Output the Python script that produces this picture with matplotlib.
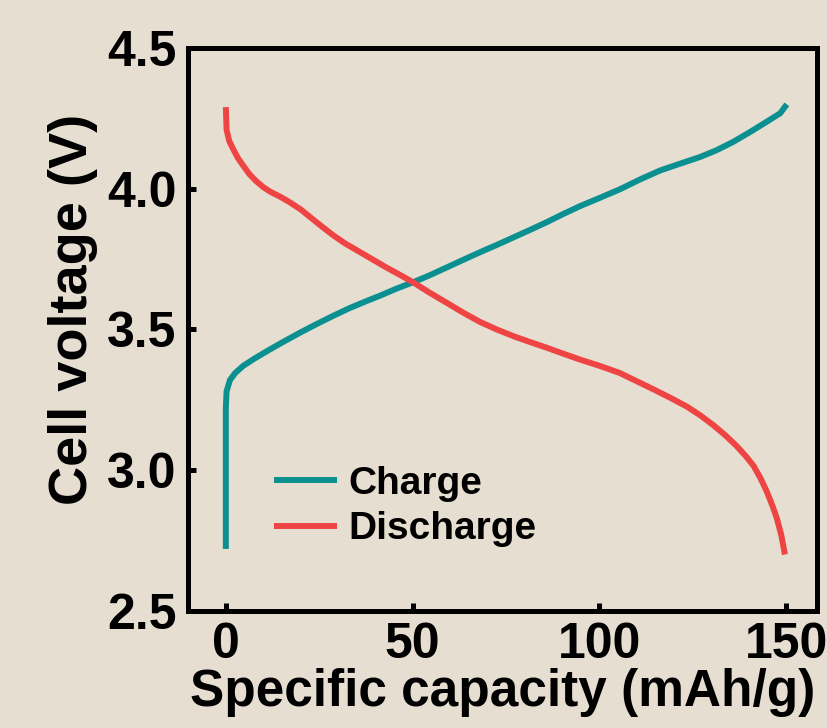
import matplotlib
matplotlib.use("Agg")
import matplotlib.pyplot as plt

# charge curve (specific capacity in mAh/g, voltage in V)
charge_cap = [0, 0, 0.2, 1.1, 2.5, 4.6, 7.5, 10.9, 15, 19.8, 24, 28.7, 33, 37.7,
              41.3, 45.7, 50.2, 54.5, 59.1, 63.5, 68, 72.5, 77, 81.5, 85.9, 90.3,
              94.8, 100.2, 105.5, 110.9, 116.3, 122.5, 127.0, 131.4, 135.9, 140.4,
              144.8, 148.4, 150.2]
charge_v = [2.72, 3.22, 3.28, 3.32, 3.345, 3.37, 3.395, 3.422, 3.453, 3.488, 3.517,
            3.548, 3.575, 3.601, 3.62, 3.645, 3.668, 3.692, 3.72, 3.747, 3.774, 3.80,
            3.827, 3.854, 3.881, 3.91, 3.938, 3.968, 3.998, 4.033, 4.065, 4.093,
            4.113, 4.137, 4.167, 4.202, 4.238, 4.268, 4.30]

# discharge curve
discharge_cap = [0, 0.2, 0.9, 2.0, 3.2, 4.6, 6.3, 8.2, 10, 11.8, 14.5, 17.1, 20,
                 22.5, 25.5, 28.7, 32, 35.9, 39.5, 43.0, 46.6, 50.2, 54.5, 59.1,
                 63.5, 68, 72.5, 77, 81.5, 85.9, 90.3, 94.8, 100.2, 105.5, 110,
                 114.5, 119, 123.4, 127, 130.5, 133.8, 136.8, 139.2, 141.3, 143.2,
                 144.8, 146.3, 147.5, 148.7, 149.7]
discharge_v = [4.29, 4.21, 4.17, 4.14, 4.11, 4.083, 4.052, 4.026, 4.006, 3.99, 3.972,
               3.952, 3.927, 3.90, 3.868, 3.835, 3.805, 3.775, 3.747, 3.72, 3.694,
               3.667, 3.631, 3.595, 3.56, 3.527, 3.50, 3.476, 3.455, 3.435, 3.414,
               3.393, 3.37, 3.345, 3.316, 3.287, 3.257, 3.226, 3.195, 3.16, 3.123,
               3.085, 3.05, 3.015, 2.97, 2.925, 2.875, 2.83, 2.77, 2.70]

x_ticks = [0, 50, 100, 150]
y_ticks = [2.5, 3.0, 3.5, 4.0, 4.5]

bg = "#e6dfd1"
teal = "#0a9090"
red = "#ef4444"
font = ["Liberation Sans", "DejaVu Sans"]

fig = plt.figure(figsize=(8.27, 7.28), dpi=100, facecolor=bg)
ax = fig.add_axes([0.227, 0.161, 0.761, 0.773])
ax.set_facecolor(bg)

ax.plot(charge_cap, charge_v, color=teal, lw=4.3, label="Charge",
        solid_capstyle="butt", solid_joinstyle="round")
ax.plot(discharge_cap, discharge_v, color=red, lw=4.3, label="Discharge",
        solid_capstyle="butt", solid_joinstyle="round")

ax.set_xlim(-10.2, 158.3)
ax.set_ylim(2.5, 4.5)
ax.set_xticks(x_ticks)
ax.set_yticks(y_ticks)
ax.set_yticklabels([f"{v:.1f}" for v in y_ticks])

for s in ax.spines.values():
    s.set_linewidth(3.6)
ax.tick_params(direction="in", length=6, width=3.6, pad=8)
for lab in ax.get_xticklabels() + ax.get_yticklabels():
    lab.set_family(font)
    lab.set_fontweight("bold")
    lab.set_fontsize(36)

ax.set_xlabel("Specific capacity (mAh/g)", family=font, fontweight="bold", fontsize=37, labelpad=0)
ax.set_ylabel("Cell voltage (V)", family=font, fontweight="bold", fontsize=39)
ax.yaxis.set_label_coords(-0.143, 0.535)

ax.legend(loc="upper left", bbox_to_anchor=(0.137, 0.258), frameon=False,
          prop={"family": font, "weight": "bold", "size": 28},
          handlelength=1.62, handletextpad=0.3, labelspacing=0.25,
          borderaxespad=0, borderpad=0)

fig.savefig("out.png", dpi=100, facecolor=bg)
